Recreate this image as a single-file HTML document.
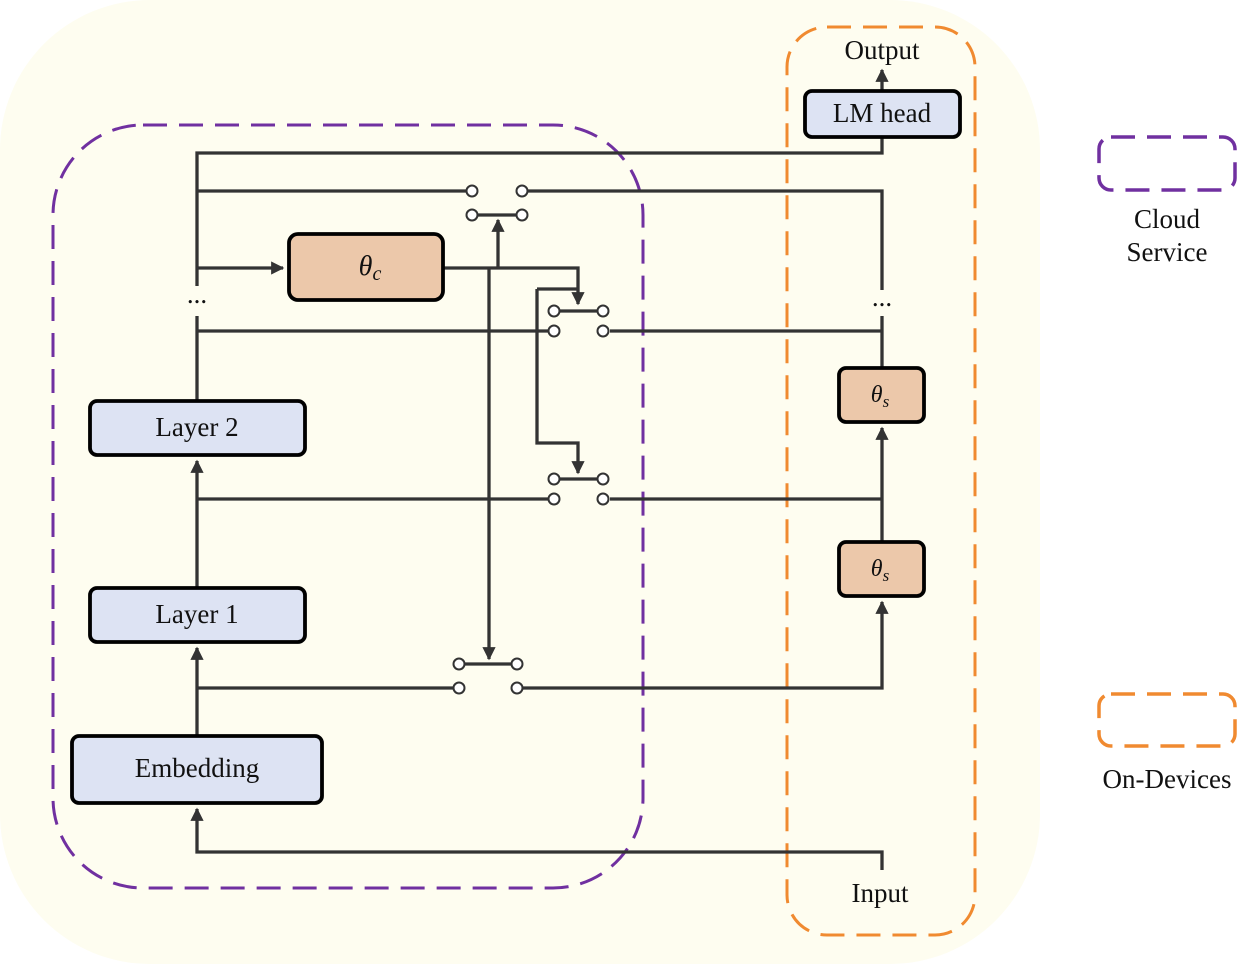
<!DOCTYPE html>
<html><head><meta charset="utf-8"><style>
html,body{margin:0;padding:0;background:#fff;}
svg{display:block;}
text{font-family:"Liberation Serif",serif;fill:#111;}
</style></head><body>
<svg width="1252" height="964" viewBox="0 0 1252 964" xmlns="http://www.w3.org/2000/svg">
<defs>
<marker id="a" viewBox="0 0 10 10" refX="9" refY="5" markerWidth="4" markerHeight="4" orient="auto" markerUnits="strokeWidth"><path d="M0,0 L10,5 L0,10 z" fill="#333"/></marker>
</defs>
<rect x="0" y="0" width="1040" height="964" rx="150" fill="#fefdf0"/>
<rect x="53" y="125" width="590" height="763" rx="90" fill="none" stroke="#7030a0" stroke-width="3" stroke-dasharray="24,12"/>
<rect x="787" y="27" width="188" height="908" rx="40" fill="none" stroke="#f08a30" stroke-width="3" stroke-dasharray="24,12"/>
<g stroke="#333" stroke-width="3.3" fill="none">
<path d="M197 401 V316 M197 286 V153 H882 V137"/>
<path d="M197 191 H466 M528 191 H882 V290 M882 316 V368"/>
<path d="M197 331 H548 M610 331 H882"/>
<path d="M197 499 H548 M610 499 H882"/>
<path d="M197 688 H453 M523 688 H882 V602" marker-end="url(#a)"/>
<path d="M197 268 H283" marker-end="url(#a)"/>
<path d="M443 268 H578 V304" marker-end="url(#a)"/>
<path d="M498 268 V220" marker-end="url(#a)"/>
<path d="M489 268 V659" marker-end="url(#a)"/>
<path d="M537 289 H578 M537 289 V443 H578 V473" marker-end="url(#a)"/>
<path d="M882 542 V428" marker-end="url(#a)"/>
<path d="M882 91 V70" marker-end="url(#a)"/>
<path d="M882 870 V852 H197 V809" marker-end="url(#a)"/>
<path d="M197 736 V648" marker-end="url(#a)"/>
<path d="M197 588 V461" marker-end="url(#a)"/>
<path d="M472 215 H522 M554 311 H603 M554 479 H603 M459 664 H517"/>
</g>
<g fill="#fff" stroke="#333" stroke-width="2">
<circle cx="472" cy="191" r="5.5"/><circle cx="522" cy="191" r="5.5"/><circle cx="472" cy="215" r="5.5"/><circle cx="522" cy="215" r="5.5"/>
<circle cx="554" cy="311" r="5.5"/><circle cx="603" cy="311" r="5.5"/><circle cx="554" cy="331" r="5.5"/><circle cx="603" cy="331" r="5.5"/>
<circle cx="554" cy="479" r="5.5"/><circle cx="603" cy="479" r="5.5"/><circle cx="554" cy="499" r="5.5"/><circle cx="603" cy="499" r="5.5"/>
<circle cx="459" cy="664" r="5.5"/><circle cx="517" cy="664" r="5.5"/><circle cx="459" cy="688" r="5.5"/><circle cx="517" cy="688" r="5.5"/>
</g>
<g stroke="#000" stroke-width="3.8">
<rect x="805" y="91" width="155" height="46" rx="7" fill="#dde3f3"/>
<rect x="90" y="401" width="215" height="54" rx="7" fill="#dde3f3"/>
<rect x="90" y="588" width="215" height="54" rx="7" fill="#dde3f3"/>
<rect x="72" y="736" width="250" height="67" rx="7" fill="#dde3f3"/>
<rect x="289" y="234" width="154" height="66" rx="9" fill="#ecc8aa"/>
<rect x="839" y="368" width="85" height="54" rx="7" fill="#ecc8aa"/>
<rect x="839" y="542" width="85" height="54" rx="7" fill="#ecc8aa"/>
</g>
<g font-size="27" text-anchor="middle">
<text x="882" y="122">LM head</text>
<text x="197" y="436">Layer 2</text>
<text x="197" y="623">Layer 1</text>
<text x="197" y="777">Embedding</text>
<text x="882" y="59">Output</text>
<text x="880" y="902">Input</text>
<text x="197" y="303">...</text>
<text x="882" y="306">...</text>
<text x="370" y="275" font-style="italic" font-size="28">θ<tspan font-size="20" dy="5">c</tspan></text>
<text x="880" y="402" font-style="italic" font-size="24">θ<tspan font-size="17" dy="5">s</tspan></text>
<text x="880" y="576" font-style="italic" font-size="24">θ<tspan font-size="17" dy="5">s</tspan></text>
<text x="1167" y="228">Cloud</text>
<text x="1167" y="261">Service</text>
<text x="1167" y="788">On-Devices</text>
</g>
<rect x="1099" y="137" width="136" height="53" rx="12" fill="none" stroke="#7030a0" stroke-width="3.5" stroke-dasharray="24,12"/>
<rect x="1099" y="694" width="136" height="52" rx="12" fill="none" stroke="#f08a30" stroke-width="3.5" stroke-dasharray="24,12"/>
</svg>
</body></html>
